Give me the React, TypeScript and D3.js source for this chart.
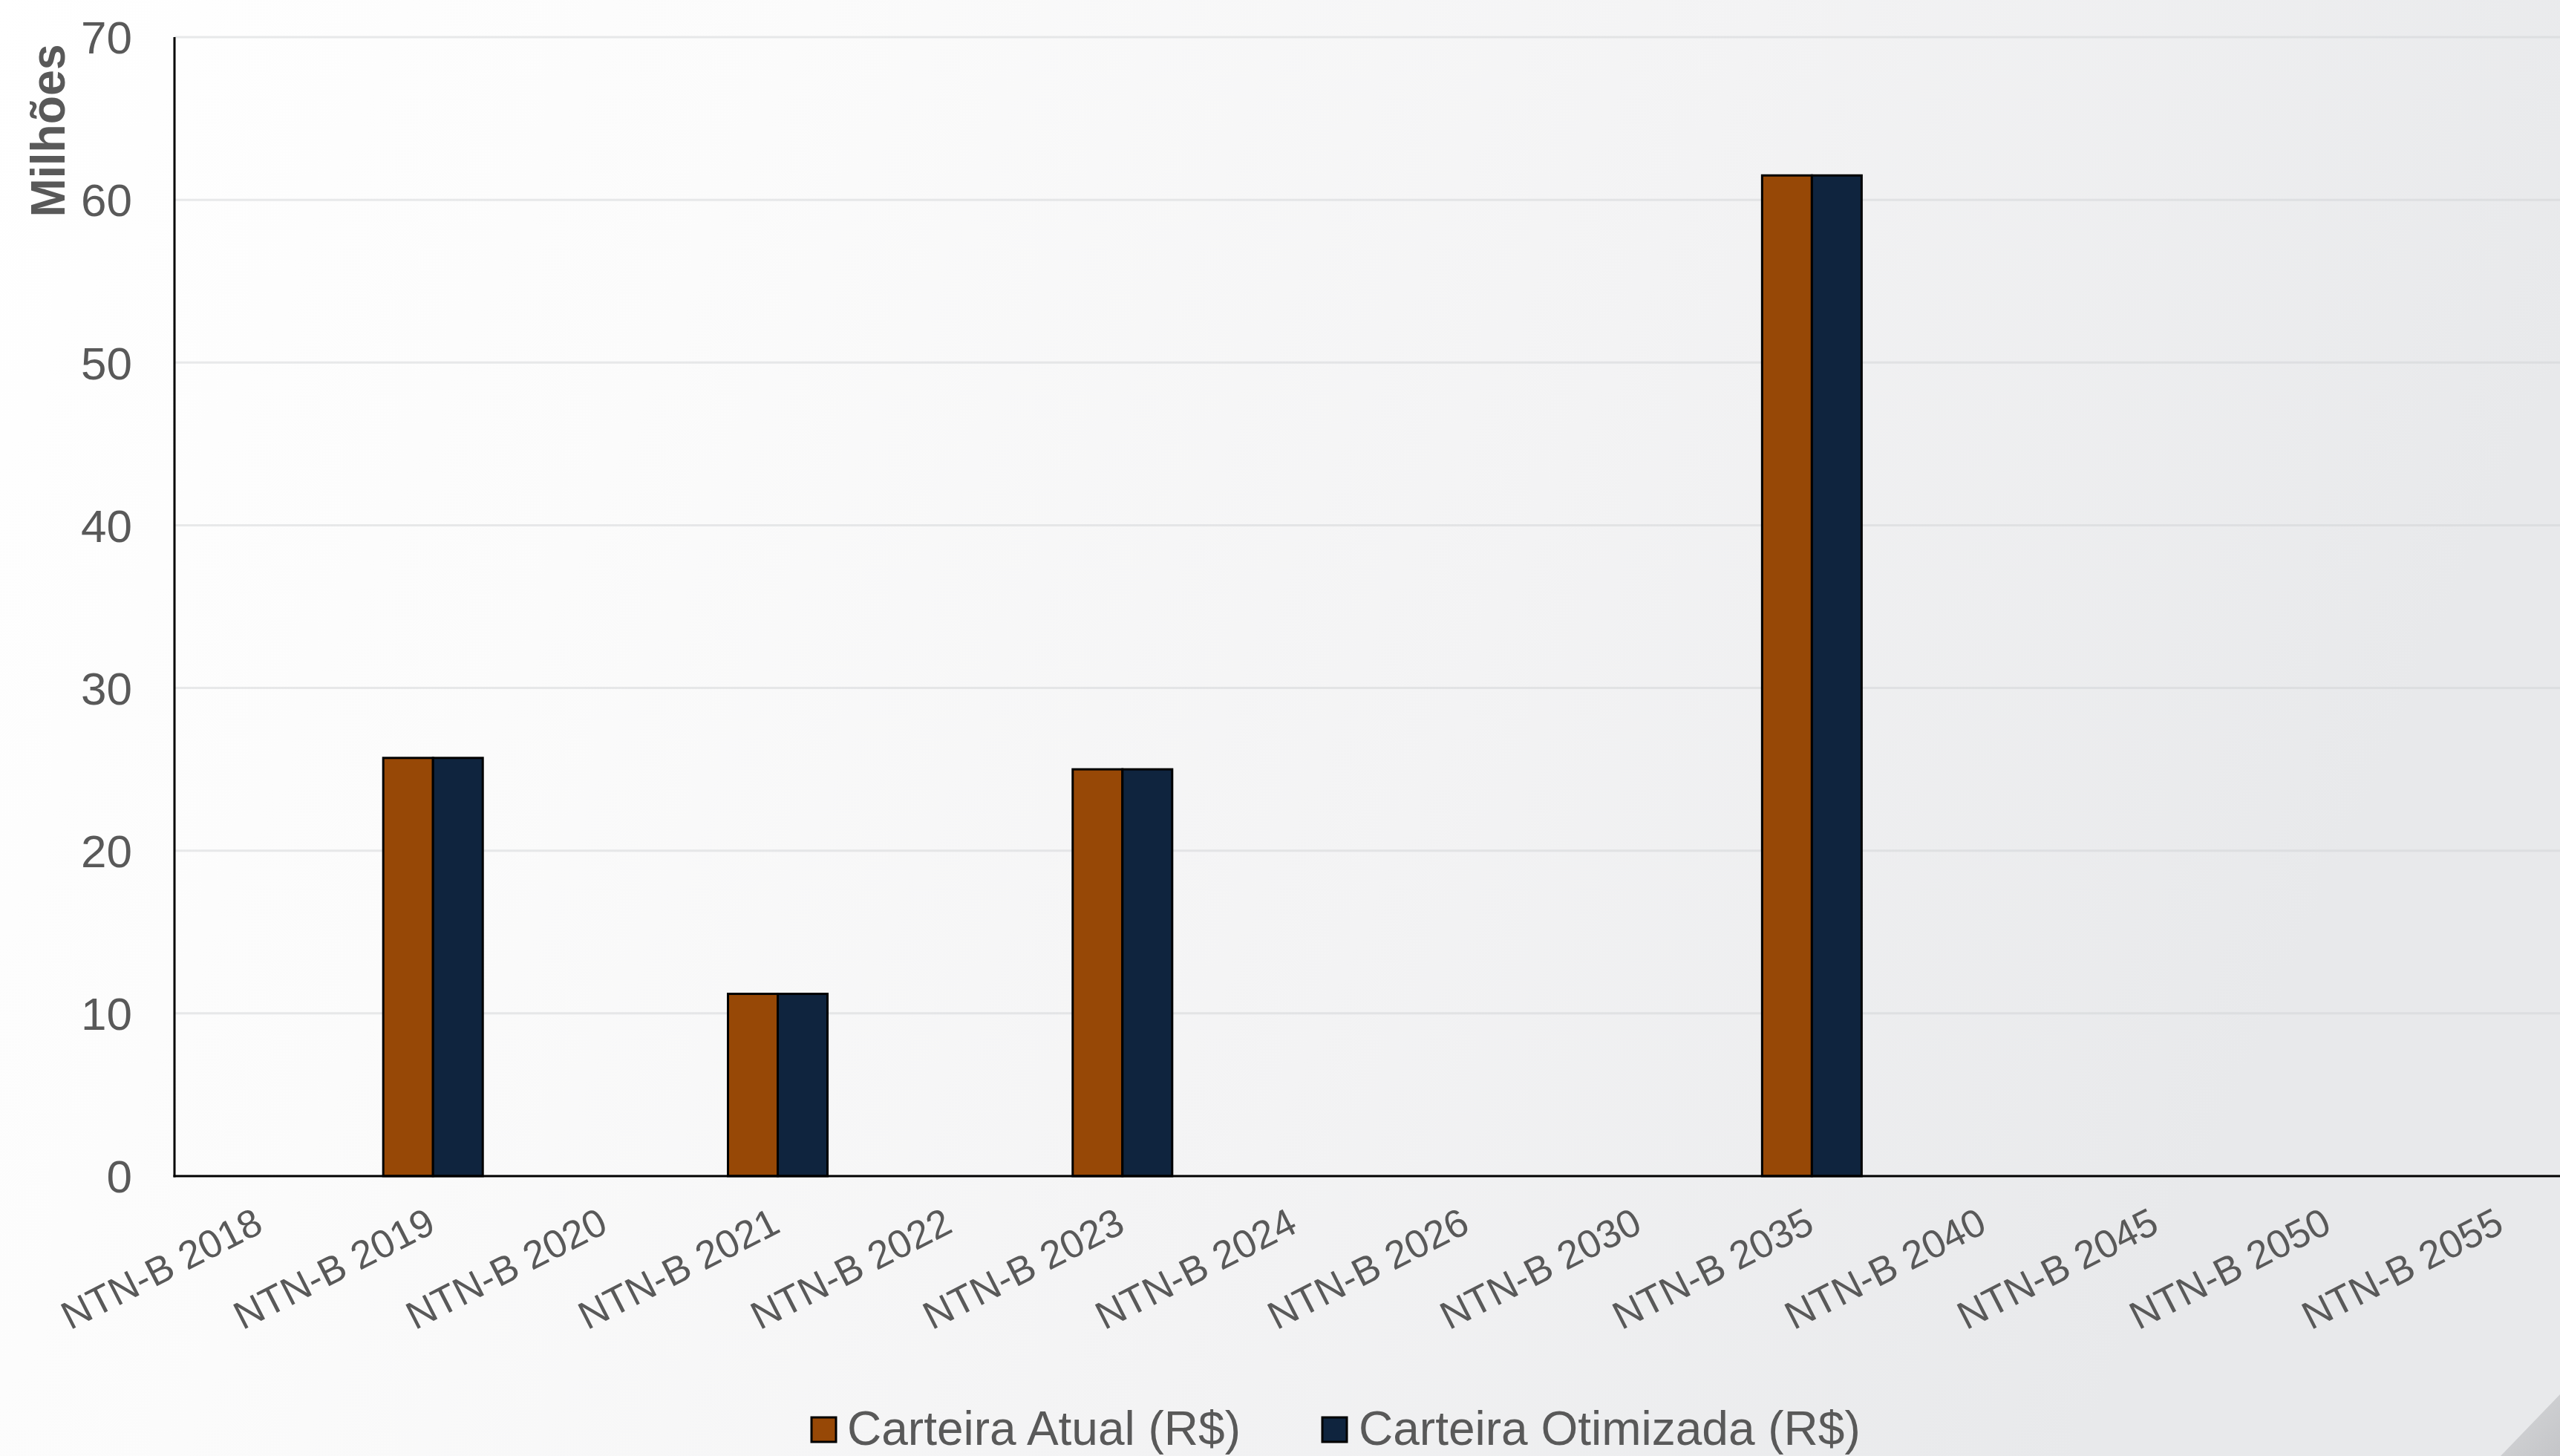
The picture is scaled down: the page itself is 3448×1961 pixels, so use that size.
import React from "react";
import * as d3 from "d3";

const categories = [
  "NTN-B 2018", "NTN-B 2019", "NTN-B 2020", "NTN-B 2021", "NTN-B 2022",
  "NTN-B 2023", "NTN-B 2024", "NTN-B 2026", "NTN-B 2030", "NTN-B 2035",
  "NTN-B 2040", "NTN-B 2045", "NTN-B 2050", "NTN-B 2055",
];
const carteiraAtual = [0, 25.7, 0, 11.2, 0, 25.0, 0, 0, 0, 61.5, 0, 0, 0, 0];
const carteiraOtimizada = [0, 25.7, 0, 11.2, 0, 25.0, 0, 0, 0, 61.5, 0, 0, 0, 0];
const seriesNames = ["Carteira Atual (R$)", "Carteira Otimizada (R$)"];
const seriesColors = ["#974806", "#0F243E"];
const yTicks = [0, 10, 20, 30, 40, 50, 60, 70];
const yTitle = "Milhões";

const W = 3448;
const H = 1961;
const left = 235;
const plotRight = 3485;
const top = 50;
const bottom = 1584;
const textColor = "#595959";
const font = "Arial, 'Liberation Sans', Helvetica, sans-serif";

export default function App() {
  const x0 = d3.scaleBand<string>().domain(categories).range([left, plotRight]).paddingInner(0.4227).paddingOuter(0.21135);
  const x1 = d3.scaleBand<string>().domain(seriesNames).range([0, x0.bandwidth()]);
  const y = d3.scaleLinear().domain([0, 70]).range([bottom, top]);
  const seriesData = [carteiraAtual, carteiraOtimizada];

  const legendItems = [
    { sx: 1093, tx: 1141 },
    { sx: 1781, tx: 1830 },
  ];

  return (
    <svg width={W} height={H} style={{ position: "absolute", left: 0, top: 0, display: "block" }} fontFamily={font}>
      <defs>
        <linearGradient id="bg" x1="0" y1="0" x2="1" y2="0.25">
          <stop offset="0" stopColor="#ffffff" />
          <stop offset="0.3" stopColor="#fbfbfb" />
          <stop offset="0.65" stopColor="#f3f3f4" />
          <stop offset="1" stopColor="#e8e9eb" />
        </linearGradient>
        <linearGradient id="curl" x1="0" y1="0" x2="1" y2="1">
          <stop offset="0" stopColor="#d6d7d9" />
          <stop offset="1" stopColor="#c4c5c8" />
        </linearGradient>
      </defs>
      <rect x={0} y={0} width={W} height={H} fill="url(#bg)" />
      <path d={`M${W},1878 L3368,${H} L${W},${H} Z`} fill="url(#curl)" />

      {/* gridlines */}
      {yTicks.filter((t) => t > 0).map((t) => (
        <line key={t} x1={left} x2={W} y1={y(t)} y2={y(t)} stroke="#cfd0d2" strokeOpacity={0.45} strokeWidth={3} />
      ))}

      {/* bars */}
      {categories.map((c, i) => (
        <g key={c}>
          {seriesData.map((s, k) =>
            s[i] > 0 ? (
              <rect
                key={k}
                x={(x0(c) as number) + (x1(seriesNames[k]) as number)}
                y={y(s[i])}
                width={x1.bandwidth()}
                height={y(0) - y(s[i])}
                fill={seriesColors[k]}
                stroke="#000"
                strokeWidth={3}
              />
            ) : null
          )}
        </g>
      ))}

      {/* axes */}
      <line x1={left} x2={left} y1={top} y2={bottom + 1.5} stroke="#000" strokeWidth={3} />
      <line x1={left - 1.5} x2={W} y1={bottom} y2={bottom} stroke="#000" strokeWidth={3} />

      {/* y tick labels */}
      {yTicks.map((t) => (
        <text key={t} x={178} y={y(t)} dy="0.36em" textAnchor="end" fontSize={62} fill={textColor}>
          {t}
        </text>
      ))}

      {/* y title */}
      <text
        transform={`translate(87,176) rotate(-90)`}
        textAnchor="middle"
        fontSize={64}
        fontWeight="bold"
        fill={textColor}
        textLength={233}
        lengthAdjust="spacingAndGlyphs"
      >
        {yTitle}
      </text>

      {/* x labels */}
      {categories.map((c) => {
        const cx = (x0(c) as number) + x0.bandwidth() / 2;
        return (
          <text key={c} transform={`translate(${cx + 6},1658) rotate(-27)`} textAnchor="end" fontSize={53} fill={textColor}>
            {c}
          </text>
        );
      })}

      {/* legend */}
      {seriesNames.map((n, k) => (
        <g key={n}>
          <rect x={legendItems[k].sx} y={1909} width={33} height={33} fill={seriesColors[k]} stroke="#000" strokeWidth={3} />
          <text x={legendItems[k].tx} y={1946} fontSize={64} fill={textColor}>
            {n}
          </text>
        </g>
      ))}
    </svg>
  );
}
